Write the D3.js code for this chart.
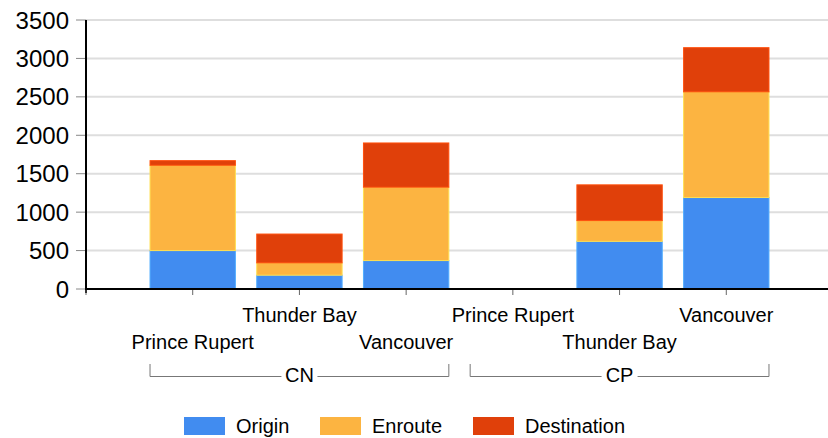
<!DOCTYPE html>
<html>
<head>
<meta charset="utf-8">
<script src="https://cdn.jsdelivr.net/npm/d3@7"></script>
<style>
  body { margin: 0; background: #fff; }
  svg { display: block; font-family: Arial, "Liberation Sans", sans-serif; }
</style>
</head>
<body>
<svg width="828" height="438"></svg>
<script>
const groups = ["CN", "CP"];
const ports = ["Prince Rupert", "Thunder Bay", "Vancouver"];
const seriesNames = ["Origin", "Enroute", "Destination"];
const seriesColors = ["#418CF0", "#FCB441", "#E0400A"];

// one value per bar: CN x 3 ports, then CP x 3 ports
const origin      = [500, 180, 370, 0, 620, 1190];
const enroute     = [1110, 160, 955, 0, 270, 1375];
const destination = [60, 375, 575, 0, 465, 575];

const yTicks = [0, 500, 1000, 1500, 2000, 2500, 3000, 3500];

const svg = d3.select("svg");

const x = d3.scaleLinear().domain([0, 7]).range([86, 833]);
const y = d3.scaleLinear().domain([0, 3500]).range([289, 20]);
const barW = (x(1) - x(0)) * 0.8;

const bars = [];
groups.forEach((g, gi) => {
  ports.forEach((p, pi) => {
    const i = gi * ports.length + pi;
    bars.push({ i: i, pos: i + 1, group: g, port: p, vals: [origin[i], enroute[i], destination[i]] });
  });
});

// gridlines
svg.append("g")
  .selectAll("line")
  .data(yTicks.slice(1))
  .join("line")
    .attr("x1", x(0)).attr("x2", 828)
    .attr("y1", d => y(d)).attr("y2", d => y(d))
    .attr("stroke", "#dedede")
    .attr("stroke-width", 2);

// stacked bars
const stack = d3.stack().keys([0, 1, 2]).value((d, k) => d.vals[k]);
const layers = stack(bars);
svg.append("g")
  .selectAll("g")
  .data(layers)
  .join("g")
    .attr("fill", (d, k) => seriesColors[k])
    .attr("stroke", (d, k) => d3.color(seriesColors[k]).brighter(0.6))
    .attr("stroke-width", 1)
  .selectAll("rect")
  .data(d => d.filter(s => s[1] > s[0]))
  .join("rect")
    .attr("x", s => x(s.data.pos) - barW / 2)
    .attr("width", barW)
    .attr("y", s => y(s[1]))
    .attr("height", s => y(s[0]) - y(s[1]));

// y axis
const yAxis = svg.append("g");
yAxis.selectAll("line.tick")
  .data(yTicks)
  .join("line")
    .attr("class", "tick")
    .attr("x1", 76).attr("x2", 86)
    .attr("y1", d => y(d)).attr("y2", d => y(d))
    .attr("stroke", "#888").attr("stroke-width", 1);
yAxis.selectAll("text")
  .data(yTicks)
  .join("text")
    .attr("x", 69)
    .attr("y", d => y(d))
    .attr("dy", "0.36em")
    .attr("text-anchor", "end")
    .attr("font-size", 24)
    .attr("fill", "#000")
    .text(d => d);
yAxis.append("line")
  .attr("x1", 86).attr("x2", 86)
  .attr("y1", y(3500)).attr("y2", 293)
  .attr("stroke", "#000").attr("stroke-width", 2);

// x axis
const xAxis = svg.append("g");
xAxis.selectAll("line")
  .data(d3.range(0, 7))
  .join("line")
    .attr("x1", d => x(d)).attr("x2", d => x(d))
    .attr("y1", 290).attr("y2", 295)
    .attr("stroke", "#666").attr("stroke-width", 1);
xAxis.append("line")
  .attr("x1", 85).attr("x2", 828)
  .attr("y1", 289).attr("y2", 289)
  .attr("stroke", "#000").attr("stroke-width", 2);

// category labels, staggered on two rows
xAxis.selectAll("text")
  .data(bars)
  .join("text")
    .attr("x", d => x(d.pos))
    .attr("y", d => d.i % 2 === 0 ? 349 : 322)
    .attr("text-anchor", "middle")
    .attr("font-size", 20)
    .attr("fill", "#000")
    .text(d => d.port);

// group brackets
groups.forEach((g, gi) => {
  const x0 = x(gi * 3 + 1) - barW / 2;
  const x1 = x(gi * 3 + 3) + barW / 2;
  const xm = (x0 + x1) / 2;
  const by = 376.5, half = 18;
  const br = svg.append("g").attr("stroke", "#777").attr("stroke-width", 1).attr("fill", "none");
  br.append("path").attr("d", `M${x0},364V${by}H${xm - half}`);
  br.append("path").attr("d", `M${xm + half},${by}H${x1}V364`);
  svg.append("text")
    .attr("x", xm).attr("y", 382)
    .attr("text-anchor", "middle")
    .attr("font-size", 20)
    .text(g);
});

// legend
const legendX = [184, 320, 473];
const legend = svg.append("g")
  .selectAll("g")
  .data(seriesNames)
  .join("g")
    .attr("transform", (d, k) => `translate(${legendX[k]},417)`);
legend.append("rect")
  .attr("width", 41).attr("height", 18)
  .attr("fill", (d, k) => seriesColors[k]);
legend.append("text")
  .attr("x", 52).attr("y", 16)
  .attr("font-size", 20)
  .text(d => d);
</script>
</body>
</html>
